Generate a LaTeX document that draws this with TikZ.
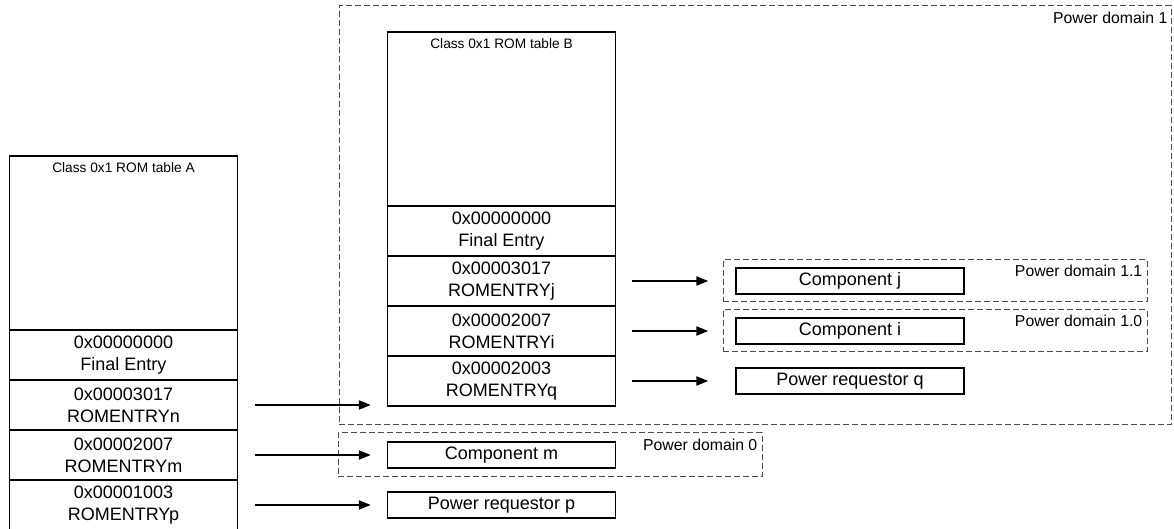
\documentclass[tikz,border=0pt]{standalone}
\usepackage{fontspec}
\setmainfont{Liberation Sans}
\usetikzlibrary{arrows.meta,positioning}

\begin{document}
\begin{tikzpicture}[x=1pt,y=1pt,>={Triangle[length=12pt,width=9pt]},
  romhead/.style={draw,line width=1.3pt,minimum width=228pt,minimum height=174pt,inner sep=0pt},
  romrow/.style={draw,line width=1.3pt,minimum width=228pt,minimum height=50pt,inner sep=0pt,align=center,font=\fontsize{18}{22}\selectfont},
  romtitle/.style={inner sep=0pt,font=\fontsize{13.7}{16}\selectfont},
  target/.style={draw,line width=1.3pt,minimum width=228pt,minimum height=26pt,inner sep=0pt,font=\fontsize{18}{22}\selectfont},
  pwrdomain/.style={draw=black!70,line width=1pt,dash pattern=on 6pt off 3pt,inner sep=0pt},
  domlabel/.style={anchor=north east,inner sep=0pt,font=\fontsize{15.8}{18}\selectfont},
  link/.style={->,line width=2pt}]
\useasboundingbox (0,0) rectangle (1174,529);

% power domains
\node[pwrdomain,minimum width=832pt,minimum height=419pt] (dom1) at (755,313.5) {};
\node[pwrdomain,minimum width=424pt,minimum height=42pt] (dom11) at (935,248) {};
\node[pwrdomain,minimum width=424pt,minimum height=42pt] (dom10) at (935,198) {};
\node[pwrdomain,minimum width=424pt,minimum height=44pt] (dom0) at (550,74) {};
\node[domlabel] (lab1) at ([xshift=-4pt,yshift=-6pt]dom1.north east) {Power domain 1};
\node[domlabel] (lab11) at ([xshift=-5pt,yshift=-5pt]dom11.north east) {Power domain 1.1};
\node[domlabel] (lab10) at ([xshift=-5pt,yshift=-5pt]dom10.north east) {Power domain 1.0};
\node[domlabel] (lab0) at ([xshift=-5pt,yshift=-6pt]dom0.north east) {Power domain 0};

% ROM table A
\node[romhead] (headA) at (123.5,286) {};
\node[romtitle,below=7pt of headA.north] (titleA) {Class 0x1 ROM table A};
\node[romrow] (finA) at (123.5,174) {0x00000000\\Final Entry};
\node[romrow] (rn) at (123.5,124) {0x00003017\\ROMENTRYn};
\node[romrow] (rm) at (123.5,74) {0x00002007\\ROMENTRYm};
\node[romrow] (rp) at (123.5,24) {0x00001003\\ROMENTRYp};

% ROM table B
\node[romhead] (headB) at (501.5,410) {};
\node[romtitle,below=7pt of headB.north] (titleB) {Class 0x1 ROM table B};
\node[romrow] (finB) at (501.5,298) {0x00000000\\Final Entry};
\node[romrow] (rj) at (501.5,248) {0x00003017\\ROMENTRYj};
\node[romrow] (ri) at (501.5,198) {0x00002007\\ROMENTRYi};
\node[romrow] (rq) at (501.5,148) {0x00002003\\ROMENTRYq};

% components
\node[target] (cj) at (850,248) {Component j};
\node[target] (ci) at (850,198) {Component i};
\node[target] (pq) at (850,148) {Power requestor q};
\node[target] (cm) at (501.5,74) {Component m};
\node[target] (pp) at (501.5,24) {Power requestor p};

\coordinate (tabB) at (rn.east -| rq.west);
\draw[link] ([xshift=17pt]rn.east) -- ([xshift=-16pt]tabB);
\draw[link] ([xshift=17pt]rm.east) -- ([xshift=-16pt]cm.west);
\draw[link] ([xshift=17pt]rp.east) -- ([xshift=-16pt]pp.west);
\draw[link] ([xshift=16pt]rj.east) -- ([xshift=-27pt]cj.west);
\draw[link] ([xshift=16pt]ri.east) -- ([xshift=-27pt]ci.west);
\draw[link] ([xshift=16pt]rq.east) -- ([xshift=-27pt]pq.west);
\end{tikzpicture}
\end{document}
